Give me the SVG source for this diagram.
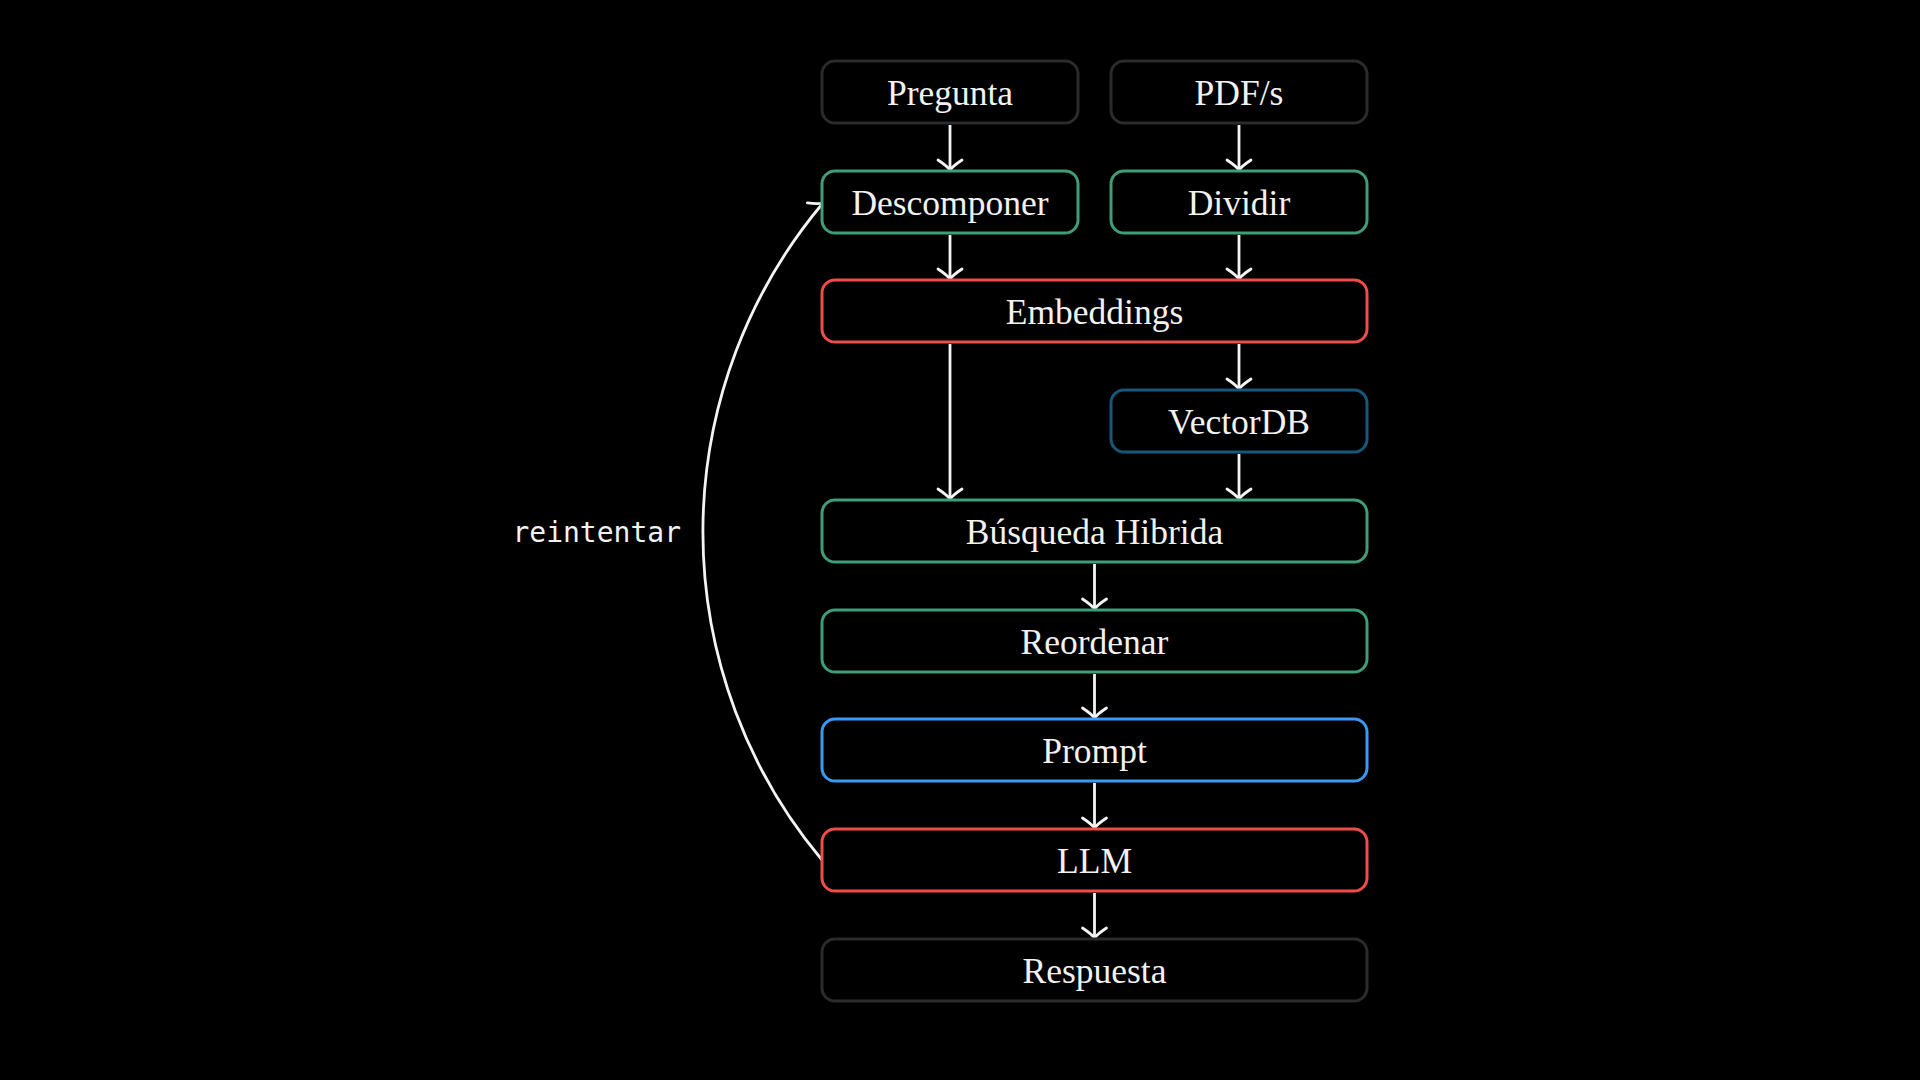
<svg xmlns="http://www.w3.org/2000/svg" width="1920" height="1080" viewBox="0 0 1920 1080">
<defs>
<style>
.box{fill:#000;stroke-width:3}
.gray{stroke:#2b2b2b}
.green{stroke:#3f9d78}
.red{stroke:#ef4c4a}
.blue{stroke:#3a9af0}
.teal{stroke:#16587a}
.lbl{fill:#f2f2f2;font-family:"Liberation Serif","DejaVu Serif",serif;font-size:35.5px;text-anchor:middle}
.mono{fill:#f2f2f2;font-family:"DejaVu Sans Mono","Liberation Mono",monospace;font-size:28px}
.edge{fill:none;stroke:#f4f4f4;stroke-width:2.8;marker-end:url(#arr)}
</style>
<marker id="arr" viewBox="-15 -15 30 30" markerWidth="30" markerHeight="30" refX="0" refY="0" orient="auto" markerUnits="userSpaceOnUse">
<path d="M-10,-12 Q-4,-3 0,0 Q-4,3 -10,12" fill="none" stroke="#f4f4f4" stroke-width="2.8" stroke-linecap="round" stroke-linejoin="round"/>
</marker>
</defs>
<rect width="1920" height="1080" fill="#000"/>
<g id="connectors">
<line class="edge" x1="950" y1="125" x2="950" y2="170"/>
<line class="edge" x1="1239" y1="125" x2="1239" y2="170"/>
<line class="edge" x1="950" y1="235" x2="950" y2="279"/>
<line class="edge" x1="1239" y1="235" x2="1239" y2="279"/>
<line class="edge" x1="1239" y1="344" x2="1239" y2="389"/>
<line class="edge" x1="950" y1="344" x2="950" y2="499"/>
<line class="edge" x1="1239" y1="454" x2="1239" y2="499"/>
<line class="edge" x1="1094.5" y1="564" x2="1094.5" y2="609"/>
<line class="edge" x1="1094.5" y1="674" x2="1094.5" y2="718"/>
<line class="edge" x1="1094.5" y1="783" x2="1094.5" y2="828"/>
<line class="edge" x1="1094.5" y1="893" x2="1094.5" y2="938"/>
<path class="edge" d="M822,860 A511,511 0 0 1 823,203"/>
<text class="mono" x="681" y="542" text-anchor="end">reintentar</text>
</g>
<g id="n-pregunta"><rect class="box gray" x="822" y="61" width="256" height="62" rx="13"/><text class="lbl" x="950" y="105">Pregunta</text></g>
<g id="n-pdfs"><rect class="box gray" x="1111" y="61" width="256" height="62" rx="13"/><text class="lbl" x="1239" y="105">PDF/s</text></g>
<g id="n-descomponer"><rect class="box green" x="822" y="171" width="256" height="62" rx="13"/><text class="lbl" x="950" y="215">Descomponer</text></g>
<g id="n-dividir"><rect class="box green" x="1111" y="171" width="256" height="62" rx="13"/><text class="lbl" x="1239" y="215">Dividir</text></g>
<g id="n-embeddings"><rect class="box red" x="822" y="280" width="545" height="62" rx="13"/><text class="lbl" x="1094.5" y="324">Embeddings</text></g>
<g id="n-vectordb"><rect class="box teal" x="1111" y="390" width="256" height="62" rx="13"/><text class="lbl" x="1239" y="434">VectorDB</text></g>
<g id="n-busqueda"><rect class="box green" x="822" y="500" width="545" height="62" rx="13"/><text class="lbl" x="1094.5" y="544">Búsqueda Hibrida</text></g>
<g id="n-reordenar"><rect class="box green" x="822" y="610" width="545" height="62" rx="13"/><text class="lbl" x="1094.5" y="654">Reordenar</text></g>
<g id="n-prompt"><rect class="box blue" x="822" y="719" width="545" height="62" rx="13"/><text class="lbl" x="1094.5" y="763">Prompt</text></g>
<g id="n-llm"><rect class="box red" x="822" y="829" width="545" height="62" rx="13"/><text class="lbl" x="1094.5" y="873">LLM</text></g>
<g id="n-respuesta"><rect class="box gray" x="822" y="939" width="545" height="62" rx="13"/><text class="lbl" x="1094.5" y="983">Respuesta</text></g>
</svg>
